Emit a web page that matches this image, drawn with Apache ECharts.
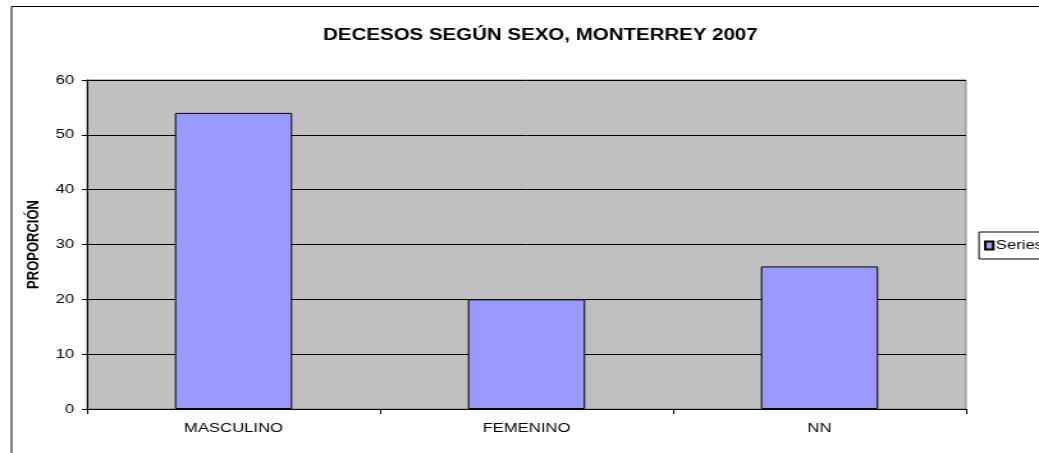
<!DOCTYPE html>
<html><head><meta charset="utf-8">
<script src="https://cdn.jsdelivr.net/npm/echarts@6/dist/echarts.min.js"></script>
<style>
html,body{margin:0;padding:0;background:#fff;overflow:hidden}
#wrap{width:1039px;height:453px;overflow:hidden}
#c{width:812px;height:453px;transform:scaleX(1.27956);transform-origin:0 0}
</style>
</head><body><div id="wrap"><div id="c"></div></div>
<script>
const categories = ['MASCULINO', 'FEMENINO', 'NN'];
const seriesName = 'Series1';
const values = [54, 20, 26];
const yTicks = [0, 10, 20, 30, 40, 50, 60];

const S = 1039 / 812; // horizontal stretch applied by CSS
const X = v => v / S;  // convert target px to internal px

const chart = echarts.init(document.getElementById('c'), null, {renderer: 'canvas', width: 812, height: 453});
chart.setOption({
  animation: false,
  backgroundColor: '#ffffff',
  textStyle: {fontFamily: 'Liberation Sans, Arial, sans-serif'},
  title: {
    text: 'DECESOS SEGÚN SEXO, MONTERREY 2007',
    left: X(534), top: 23, textAlign: 'center',
    textStyle: {fontSize: 16, fontWeight: 'bold', color: '#000', fontFamily: 'Liberation Sans, Arial, sans-serif'}
  },
  graphic: [{
    type: 'rect', z: -1, silent: true,
    shape: {x: X(11.5), y: 6.5, width: 1000, height: 500},
    style: {fill: 'none', stroke: '#000', lineWidth: 1}
  }],
  legend: {
    show: true,
    left: X(979), top: 232,
    orient: 'vertical',
    data: [seriesName],
    icon: 'rect',
    itemWidth: X(8), itemHeight: 8, itemGap: 2,
    padding: [7, 6, 7, X(5)],
    borderColor: '#000', borderWidth: 1,
    textStyle: {fontSize: 13, color: '#000', padding: [0, 0, 0, -3]}
  },
  grid: {
    left: X(87), top: 80, right: 812 - X(966), bottom: 44,
    show: true, backgroundColor: '#C0C0C0', borderColor: '#808080', borderWidth: 1
  },
  xAxis: {
    type: 'category',
    data: categories,
    boundaryGap: true,
    axisLine: {lineStyle: {color: '#000', width: 1}},
    axisTick: {show: true, length: 5, inside: false, lineStyle: {color: '#000'}},
    axisLabel: {fontSize: 13, color: '#000', margin: 13}
  },
  yAxis: {
    type: 'value',
    min: yTicks[0], max: yTicks[yTicks.length - 1], interval: 10,
    name: 'PROPORCIÓN',
    nameLocation: 'middle',
    nameGap: 33,
    nameTextStyle: {fontSize: 13, fontWeight: 'bold', color: '#000'},
    axisLine: {show: true, lineStyle: {color: '#000', width: 1}},
    axisTick: {show: true, length: 4, lineStyle: {color: '#000'}},
    axisLabel: {fontSize: 13, color: '#000', margin: 10},
    splitLine: {show: true, lineStyle: {color: '#000', width: 1}}
  },
  series: [{
    name: seriesName,
    type: 'bar',
    data: values,
    barCategoryGap: '60%',
    itemStyle: {color: '#9999FF', borderColor: '#000', borderWidth: 1}
  }]
});
</script></body></html>
